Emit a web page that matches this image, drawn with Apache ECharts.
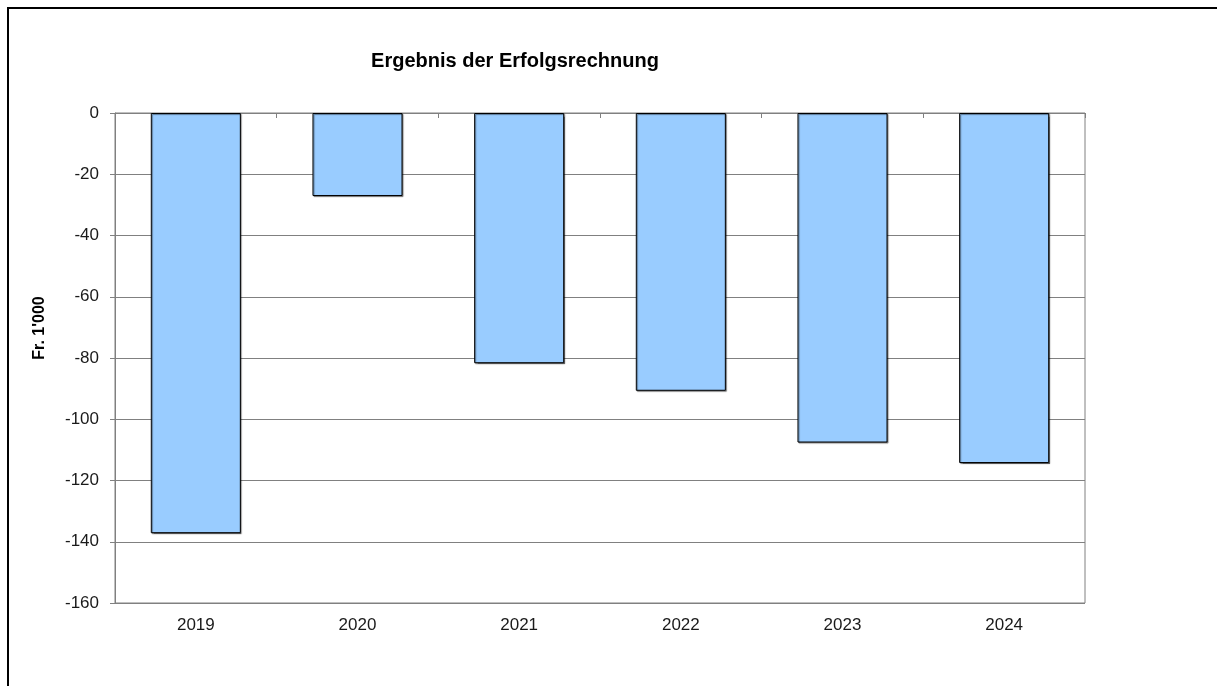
<!DOCTYPE html>
<html>
<head>
<meta charset="utf-8">
<script src="https://cdn.jsdelivr.net/npm/echarts@6/dist/echarts.min.js"></script>
<style>
html,body{margin:0;padding:0;background:#fff;}
#c{width:1217px;height:686px;}
</style>
</head>
<body>
<div id="c"></div>
<script>
var categories = ['2019', '2020', '2021', '2022', '2023', '2024'];
var values = [-137.2, -27.1, -81.7, -90.7, -107.6, -114.3];
var yTicks = { min: -160, max: 0, interval: 20 };
var titleText = 'Ergebnis der Erfolgsrechnung';
var yName = "Fr. 1'000";

var chart = echarts.init(document.getElementById('c'), null, { renderer: 'canvas' });
var font = '"Liberation Sans", Arial, sans-serif';
chart.setOption({
  animation: false,
  backgroundColor: '#fff',
  graphic: [{
    type: 'rect',
    shape: { x: 8, y: 8, width: 1400, height: 900 },
    style: { fill: 'none', stroke: '#000', lineWidth: 2 },
    silent: true
  }, {
    type: 'text',
    x: 40, y: 328,
    rotation: Math.PI / 2,
    style: {
      text: yName,
      fontFamily: font, fontSize: 16, fontWeight: 'bold', fill: '#000',
      textAlign: 'center', textVerticalAlign: 'middle'
    },
    silent: true
  }],
  title: {
    text: titleText,
    left: 510,
    top: 46,
    textAlign: 'center',
    textStyle: { fontFamily: font, fontSize: 20, fontWeight: 'bold', color: '#000' }
  },
  grid: {
    left: 115, top: 113, width: 970, height: 490,
    show: true, borderColor: '#808080', borderWidth: 1, backgroundColor: 'transparent'
  },
  xAxis: [{
    type: 'category',
    data: categories,
    position: 'bottom',
    axisLine: { show: true, lineStyle: { color: '#808080', width: 1 } },
    axisTick: { show: false },
    axisLabel: { fontFamily: font, fontSize: 17, color: '#1a1a1a', margin: 14 }
  }, {
    type: 'category',
    data: categories,
    position: 'top',
    axisLine: { show: true, lineStyle: { color: '#808080', width: 1 } },
    axisTick: { show: true, inside: true, length: 5, lineStyle: { color: '#808080' } },
    axisLabel: { show: false }
  }],
  yAxis: {
    type: 'value',
    min: yTicks.min, max: yTicks.max, interval: yTicks.interval,
    axisLine: { show: true, lineStyle: { color: '#808080', width: 1 } },
    axisTick: { show: true, length: 5, lineStyle: { color: '#808080' } },
    axisLabel: { fontFamily: font, fontSize: 17, color: '#1a1a1a', margin: 16 },
    splitLine: { show: true, lineStyle: { color: '#808080', width: 1 } }
  },
  series: [{
    type: 'bar',
    data: values,
    xAxisIndex: 0,
    barWidth: '55.7%',
    itemStyle: {
      color: '#99CCFF',
      borderColor: '#000',
      borderWidth: 1,
      shadowColor: 'rgba(0,0,0,0.45)',
      shadowOffsetX: 1,
      shadowOffsetY: 1,
      shadowBlur: 1
    }
  }]
});
</script>
</body>
</html>
